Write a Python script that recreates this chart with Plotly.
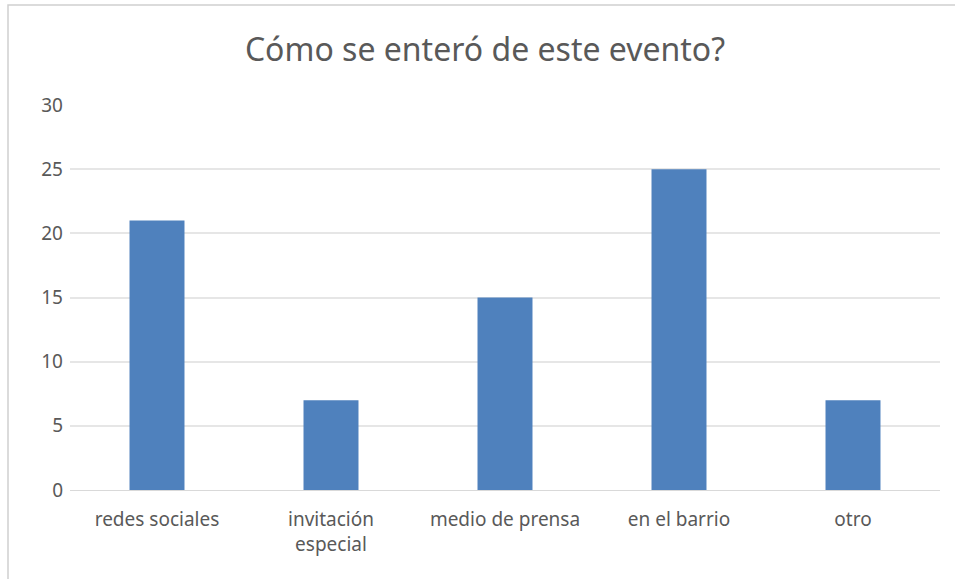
import plotly.graph_objects as go

categories = ["redes sociales", "invitación<br>especial", "medio de prensa", "en el barrio", "otro"]
values = [21, 7, 15, 25, 7]
y_ticks = [0, 5, 10, 15, 20, 25, 30]
title_text = "Cómo se enteró de este evento?"

fig = go.Figure(go.Bar(x=categories, y=values, marker=dict(color="#4f81bd", line=dict(width=0)),
                       width=0.316))

fig.update_layout(
    width=955, height=579,
    margin=dict(l=70, r=15, t=105, b=89),
    paper_bgcolor="white", plot_bgcolor="white",
    font=dict(family="Noto Sans", color="#595959", size=19),
    title=dict(text=title_text, x=485/955, xanchor="center", y=1 - 50/579, yanchor="middle",
               font=dict(size=32, color="#595959")),
    showlegend=False,
    xaxis=dict(showgrid=False, showline=True, linecolor="#d9d9d9", linewidth=1, ticks="",
               ticklabelstandoff=12, tickfont=dict(size=19)),
    yaxis=dict(range=[0, 30], tickvals=y_ticks, showgrid=True, gridcolor="#e6e6e6", gridwidth=1.5,
               zeroline=False, showline=False, ticks="", ticklabelstandoff=6,
               tickfont=dict(size=19)),
    shapes=[dict(type="rect", xref="paper", yref="paper", x0=(8-70)/870, x1=1.2,
                 y0=-0.5, y1=(490-5)/385, line=dict(color="#d0d0d0", width=1.5), layer="below")],
)

fig.write_html("out.html", config={"displayModeBar": False},
               post_script="document.body.style.margin='0';")
